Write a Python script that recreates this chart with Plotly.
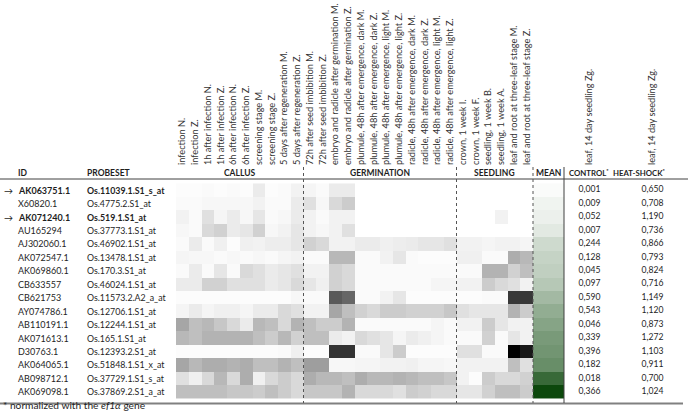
import plotly.graph_objects as go

ids = ["AK063751.1", "X60820.1", "AK071240.1", "AU165294", "AJ302060.1", "AK072547.1",
       "AK069860.1", "CB633557", "CB621753", "AY074786.1", "AB110191.1", "AK071613.1",
       "D30763.1", "AK064065.1", "AB098712.1", "AK069098.1"]
probesets = ["Os.11039.1.S1_s_at", "Os.4775.2.S1_at", "Os.519.1.S1_at", "Os.37773.1.S1_at",
             "Os.46902.1.S1_at", "Os.13478.1.S1_at", "Os.170.3.S1_at", "Os.46024.1.S1_at",
             "Os.11573.2.A2_a_at", "Os.12706.1.S1_at", "Os.12244.1.S1_at", "Os.165.1.S1_at",
             "Os.12393.2.S1_at", "Os.51848.1.S1_x_at", "Os.37729.1.S1_s_at", "Os.37869.2.S1_a_at"]
highlighted = [True, False, True] + [False] * 13

conditions = [
    "infection N.", "infection Z.", "1h after infection N.", "1h after infection Z.",
    "6h after infection N.", "6h after infection Z.", "screening stage M.", "screening stage Z.",
    "5 days after regeneration M.", "5 days after regeneration Z.",
    "72h after seed imbibition M.", "72h after seed imbibition Z.",
    "embryo and radicle after germination M.", "embryo and radicle after germination Z.",
    "plumule, 48h after emergence, dark M.", "plumule, 48h after emergence, dark Z.",
    "plumule, 48h after emergence, light M.", "plumule, 48h after emergence, light Z.",
    "radicle, 48h after emergence, dark M.", "radicle, 48h after emergence, dark Z.",
    "radicle, 48h after emergence, light M.", "radicle, 48h after emergence, light Z.",
    "crown, 1 week I.", "crown, 1 week F.", "seedling, 1 week B.", "seedling, 1 week A.",
    "leaf and root at three-leaf stage M.", "leaf and root at three-leaf stage Z."]
groups = ["CALLUS", "GERMINATION", "SEEDLING"]
group_sizes = [10, 12, 6]

# relative expression level per tissue (0 = white, 1 = black)
expr = [
    [.01,.01,.02,.01,.02,.01,.08,.01,.02,.05, .04,.02,.08,.08,.0,.0,.0,.0,.0,.0,.0,.0, .0,.0,.0,.0,.0,.0],
    [.02,.02,.03,.03,.03,.03,.05,.02,.02,.08, .12,.03,.15,.2,.0,.0,.0,.0,.0,.0,.0,.0, .0,.0,.0,.0,.0,.0],
    [.05,.02,.12,.04,.08,.03,.1,.02,.03,.08, .05,.02,.05,.05,.0,.0,.0,.0,.0,.0,.0,.0, .0,.0,.0,.05,.0,.0],
    [.03,.02,.15,.18,.08,.1,.18,.03,.05,.1, .05,.03,.05,.12,.0,.0,.0,.0,.0,.0,.0,.0, .0,.0,.0,.0,.0,.0],
    [.02,.08,.02,.06,.01,.06,.05,.07,.07,.1, .18,.15,.05,.05,.08,.08,.06,.07,.08,.1,.1,.12, .05,.05,.04,.05,.05,.04],
    [.04,.03,.03,.02,.03,.02,.03,.02,.04,.05, .02,.02,.28,.28,.02,.02,.05,.1,.02,.01,.01,.01, .06,.06,.02,.02,.32,.28],
    [.02,.08,.02,.1,.02,.15,.12,.08,.1,.12, .05,.05,.18,.15,.02,.02,.02,.02,.02,.02,.02,.02, .02,.02,.3,.3,.18,.25],
    [.08,.08,.18,.18,.12,.12,.12,.08,.1,.15, .1,.06,.18,.15,.02,.02,.02,.02,.02,.02,.04,.04, .05,.05,.2,.15,.12,.05],
    [.01,.01,.01,.01,.01,.01,.01,.01,.01,.03, .02,.02,.65,.6,.02,.02,.05,.1,.01,.01,.01,.01, .01,.01,.02,.02,.78,.78],
    [.04,.08,.04,.06,.06,.04,.08,.08,.15,.12, .05,.05,.35,.25,.18,.15,.2,.2,.18,.18,.18,.22, .12,.1,.1,.1,.3,.2],
    [.35,.25,.28,.22,.15,.08,.28,.25,.15,.3, .25,.2,.2,.3,.02,.02,.02,.02,.02,.02,.04,.02, .05,.05,.2,.1,.05,.05],
    [.28,.25,.3,.3,.3,.3,.25,.2,.28,.18, .25,.25,.08,.05,.15,.12,.1,.04,.08,.06,.04,.02, .02,.02,.18,.02,.1,.05],
    [.01,.01,.01,.01,.01,.01,.01,.01,.02,.06, .01,.01,.8,.8,.02,.02,.1,.2,.01,.01,.01,.01, .12,.12,.02,.02,1.0,.9],
    [.35,.28,.32,.32,.3,.32,.25,.25,.3,.25, .38,.38,.03,.03,.04,.04,.05,.05,.06,.04,.04,.03, .05,.05,.05,.05,.25,.12],
    [.12,.06,.15,.28,.15,.32,.06,.15,.2,.15, .32,.28,.28,.25,.32,.28,.28,.3,.28,.25,.25,.22, .05,.01,.2,.15,.15,.18],
    [.25,.25,.25,.25,.22,.22,.2,.25,.2,.15, .22,.22,.22,.3,.15,.15,.15,.12,.2,.18,.15,.15, .1,.1,.18,.25,.25,.2],
]
mean_level = [0.02, 0.06, 0.08, 0.12, 0.2, 0.24, 0.26, 0.3, 0.38, 0.45, 0.5, 0.55, 0.58, 0.62, 0.82, 1.0]
control = [0.001, 0.009, 0.052, 0.007, 0.244, 0.128, 0.045, 0.097, 0.590, 0.543, 0.046, 0.339,
           0.396, 0.182, 0.018, 0.366]
heat_shock = [0.650, 0.708, 1.190, 0.736, 0.866, 0.793, 0.824, 0.716, 1.149, 1.120, 0.873, 1.272,
              1.103, 0.911, 0.700, 1.024]
qpcr_label = "leaf, 14 day seedling Zg."

W, H = 688, 420
def px(x):
    return x / W
def py(y):
    return 1 - y / H

FONT = "Lato, Carlito, sans-serif"
TXT = "#1e1e1e"

fig = go.Figure()
fig.add_trace(go.Heatmap(z=expr, x=conditions, y=ids, xaxis="x", yaxis="y",
                         colorscale=[[0, "#ffffff"], [1, "#000000"]], zmin=0, zmax=1,
                         showscale=False, hoverongaps=False))
fig.add_trace(go.Heatmap(z=[[v] for v in mean_level], x=["MEAN"], y=ids, xaxis="x2", yaxis="y",
                         colorscale=[[0, "#ffffff"], [1, "rgb(12,72,12)"]], zmin=0, zmax=1,
                         showscale=False))
fmt = lambda v: f"{v:.3f}".replace(".", ",")
fig.add_trace(go.Scatter(x=["CONTROL"] * len(ids), y=ids, mode="text", xaxis="x3", yaxis="y",
                         text=[fmt(v) for v in control], textfont=dict(family=FONT, size=8.6, color=TXT)))
fig.add_trace(go.Scatter(x=["HEAT"] * len(ids), y=ids, mode="text", xaxis="x3", yaxis="y",
                         text=[fmt(v) for v in heat_shock], textfont=dict(family=FONT, size=8.6, color=TXT)))

ydom = [py(403), py(179)]
fig.update_layout(
    width=W, height=H, margin=dict(l=0, r=0, t=0, b=0),
    paper_bgcolor="white", plot_bgcolor="rgba(0,0,0,0)", showlegend=False,
    font=dict(family=FONT, color=TXT),
    xaxis=dict(domain=[px(176), px(533)], type="category", categoryarray=conditions, side="top",
               tickangle=-90, tickfont=dict(family=FONT, size=9.2, color="#333"),
               showgrid=False, zeroline=False, showline=False, ticks="", ticklabelstandoff=13,
               fixedrange=True),
    xaxis2=dict(domain=[px(533), px(564)], anchor="y", showticklabels=False, showgrid=False,
                zeroline=False, ticks=""),
    xaxis3=dict(domain=[px(558), px(684)], anchor="y", type="category",
                categoryarray=["CONTROL", "HEAT"], tickvals=["CONTROL", "HEAT"],
                range=[-0.5, 1.5],
                ticktext=[qpcr_label, qpcr_label], side="top", tickangle=-90,
                tickfont=dict(family=FONT, size=9.2, color="#333"), showgrid=False, zeroline=False,
                showline=False, ticks="", ticklabelstandoff=13),
    yaxis=dict(domain=ydom, type="category", categoryarray=ids, autorange="reversed",
               showticklabels=False, showgrid=False, zeroline=False, ticks=""),
)

ann = []
for i, (gid, pb, hl) in enumerate(zip(ids, probesets, highlighted)):
    t1 = f"<b>{gid}</b>" if hl else gid
    t2 = f"<b>{pb}</b>" if hl else pb
    ann.append(dict(x=px(16), y=gid, xref="paper", yref="y", text=t1, showarrow=False,
                    xanchor="left", font=dict(size=9, family=FONT, color=TXT)))
    ann.append(dict(x=px(85), y=gid, xref="paper", yref="y", text=t2, showarrow=False,
                    xanchor="left", font=dict(size=8.8, family=FONT, color=TXT)))
    if hl:
        ann.append(dict(x=px(2), y=gid, xref="paper", yref="y", text="→", showarrow=False,
                        xanchor="left", font=dict(size=9, family=FONT, color=TXT)))

hy = py(173)
headers = [("ID", 16, "left", 8.5), ("PROBESET", 85, "left", 8.5), ("MEAN", 548.5, "center", 8.5),
           ("CONTROL<sup>*</sup>", 589, "center", 7.8), ("HEAT-SHOCK<sup>*</sup>", 639, "center", 7.8)]
for t, x, a, s in headers:
    ann.append(dict(x=px(x), y=hy, xref="paper", yref="paper", text=f"<b>{t}</b>", showarrow=False,
                    xanchor=a, font=dict(size=s, family=FONT, color=TXT)))
start = 176
cw = (533 - 176) / len(conditions)
dividers = []
for g, n in zip(groups, group_sizes):
    end = start + n * cw
    ann.append(dict(x=px((start + end) / 2), y=hy, xref="paper", yref="paper", text=f"<b>{g}</b>",
                    showarrow=False, xanchor="center", font=dict(size=8.5, family=FONT, color=TXT)))
    dividers.append(end)
    start = end

ann.append(dict(x=px(1), y=py(413), xref="paper", yref="paper",
                text="* normalized with the <i>ef1α</i> gene", showarrow=False, xanchor="left",
                font=dict(size=10.2, family=FONT, color=TXT)))

shapes = [
    dict(type="line", xref="paper", yref="paper", x0=0, x1=1, y0=py(179), y1=py(179),
         line=dict(color="#404040", width=1)),
    dict(type="line", xref="paper", yref="paper", x0=0, x1=px(683), y0=py(403.5), y1=py(403.5),
         line=dict(color="#808080", width=1.8)),
    dict(type="line", xref="paper", yref="paper", x0=px(564), x1=px(564), y0=py(167), y1=py(403),
         line=dict(color="#404040", width=1)),
]
for d in dividers:
    shapes.append(dict(type="line", xref="paper", yref="paper", x0=px(d), x1=px(d), y0=py(167),
                       y1=py(403), line=dict(color="#555555", width=1, dash="dot")))

fig.update_layout(annotations=ann, shapes=shapes)
fig.write_html("out.html", config={"displayModeBar": False},
               post_script="document.body.style.margin='0';document.body.style.overflow='hidden';")
